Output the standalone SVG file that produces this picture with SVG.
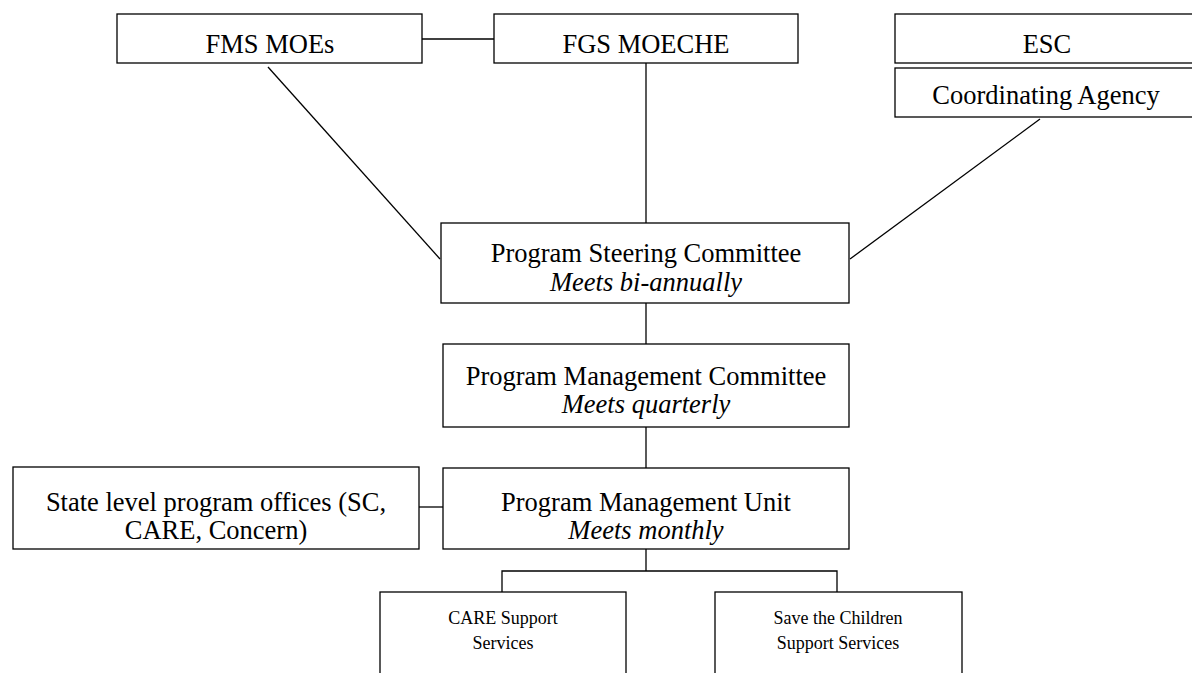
<svg xmlns="http://www.w3.org/2000/svg" width="1192" height="673" viewBox="0 0 1192 673">
<style>
.box{fill:#fff;stroke:#000;stroke-width:1.3}
.ln{fill:none;stroke:#000;stroke-width:1.3}
text{font-family:"Liberation Serif","Times New Roman",serif;fill:#000;text-anchor:middle}
.t{font-size:26.5px}
.i{font-size:26.5px;font-style:italic}
.s{font-size:18px}
</style>
<rect width="1192" height="673" fill="#fff"/>
<g id="connectors">
<line class="ln" x1="422" y1="39" x2="494" y2="39"/>
<line class="ln" x1="268" y1="67" x2="440" y2="259"/>
<line class="ln" x1="646" y1="63" x2="646" y2="223"/>
<line class="ln" x1="1040" y1="119" x2="850" y2="259"/>
<line class="ln" x1="646" y1="303" x2="646" y2="344"/>
<line class="ln" x1="646" y1="427" x2="646" y2="468"/>
<line class="ln" x1="419" y1="507" x2="443" y2="507"/>
<path class="ln" d="M646 549V571M502 592V571H837V592"/>
</g>
<g id="fms">
<rect class="box" x="117" y="14" width="305" height="49"/>
<text class="t" x="270" y="53">FMS MOEs</text>
</g>
<g id="fgs">
<rect class="box" x="494" y="14" width="304" height="49"/>
<text class="t" x="646" y="53">FGS MOECHE</text>
</g>
<g id="esc">
<rect class="box" x="895" y="14" width="304" height="49"/>
<text class="t" x="1047" y="53">ESC</text>
</g>
<g id="coord">
<rect class="box" x="895" y="68" width="304" height="49"/>
<text class="t" x="1046" y="104">Coordinating Agency</text>
</g>
<g id="psc">
<rect class="box" x="441" y="223" width="408" height="80"/>
<text class="t" x="646" y="262">Program Steering Committee</text>
<text class="i" x="646" y="291">Meets bi-annually</text>
</g>
<g id="pmc">
<rect class="box" x="443" y="344" width="406" height="83"/>
<text class="t" x="646" y="385">Program Management Committee</text>
<text class="i" x="646" y="413">Meets quarterly</text>
</g>
<g id="pmu">
<rect class="box" x="443" y="468" width="406" height="81"/>
<text class="t" x="646" y="511">Program Management Unit</text>
<text class="i" x="646" y="539">Meets monthly</text>
</g>
<g id="state">
<rect class="box" x="13" y="467" width="406" height="82"/>
<text class="t" x="216" y="511">State level program offices (SC,</text>
<text class="t" x="216" y="539">CARE, Concern)</text>
</g>
<g id="care">
<rect class="box" x="380" y="592" width="246" height="90"/>
<text class="s" x="503" y="624">CARE Support</text>
<text class="s" x="503" y="649">Services</text>
</g>
<g id="stc">
<rect class="box" x="715" y="592" width="247" height="90"/>
<text class="s" x="838" y="624">Save the Children</text>
<text class="s" x="838" y="649">Support Services</text>
</g>
</svg>
